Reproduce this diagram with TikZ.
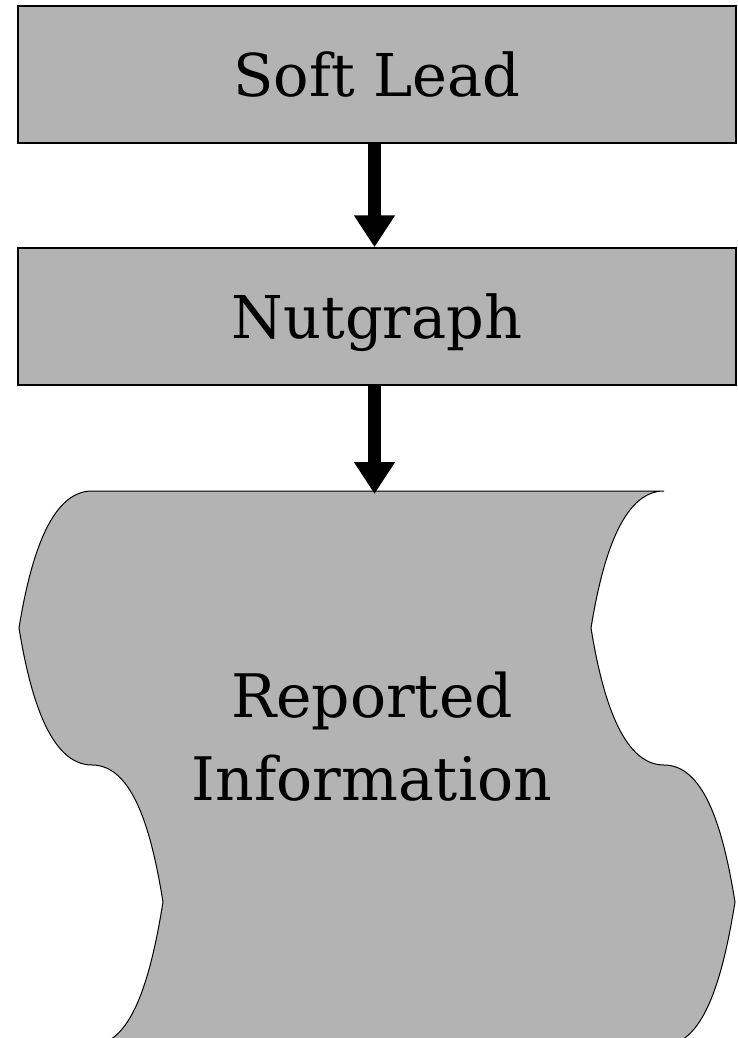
\documentclass[tikz,border=0pt]{standalone}
\usepackage{fontspec}
\setmainfont{DejaVu Serif}
\usetikzlibrary{arrows.meta}
\definecolor{boxgray}{RGB}{179,179,179}
\tikzset{
  stepbox/.style={draw=black, fill=boxgray, line width=1.5pt, rectangle,
    minimum width=718pt, minimum height=137pt, inner sep=0pt,
    font=\fontsize{59}{72}\selectfont, text height=44pt, text depth=0pt},
  flowarrow/.style={line width=13pt, -{Triangle[width=39pt,length=32pt]}},
  tape/.style={draw=black, fill=boxgray, line width=1pt, line join=miter},
  tapetext/.style={font=\fontsize{60}{83}\selectfont, align=center}
}
\begin{document}
\begin{tikzpicture}[x=1pt,y=-1pt]
\useasboundingbox (0,0) rectangle (738,1038);
\node[stepbox] (lead) at (377,74.5) {Soft Lead};
\node[stepbox] (nut) at (377,316.5) {Nutgraph};
\draw[tape] (92,491) .. controls (50,491) and (30,560) .. (19,628)
  .. controls (30,696) and (50,765) .. (92,765)
  .. controls (134,765) and (152,834) .. (163,902)
  .. controls (152,970) and (134,1045) .. (92,1045)
  -- (664,1045)
  .. controls (706,1045) and (724,970) .. (735,902)
  .. controls (724,834) and (706,765) .. (664,765)
  .. controls (622,765) and (602,696) .. (591,628)
  .. controls (602,560) and (622,491) .. (664,491) -- cycle;
\coordinate (tapetop) at (374.5,491);
\node[tapetext, anchor=base] (info) at (372,800) {Reported\\Information};
\draw[flowarrow] ([xshift=-2.5pt]lead.south) -- ([xshift=-2.5pt]nut.north);
\draw[flowarrow] ([xshift=-2.5pt]nut.south) -- ([yshift=-3pt]tapetop);
\end{tikzpicture}
\end{document}
